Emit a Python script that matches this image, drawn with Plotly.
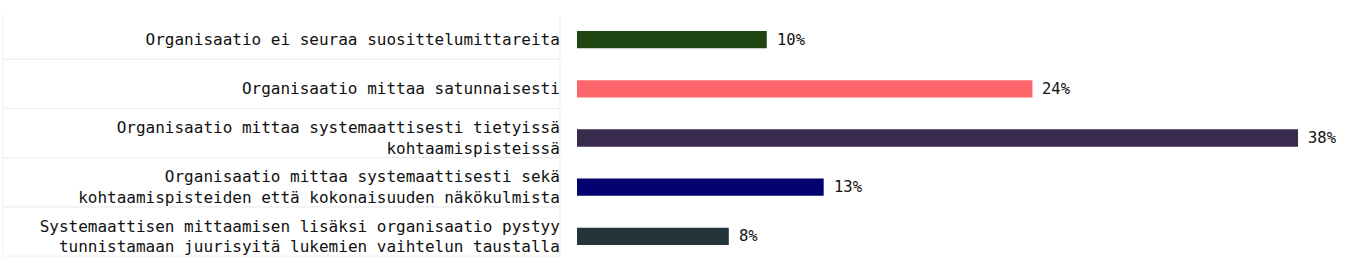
import plotly.graph_objects as go

categories = [
    "Organisaatio ei seuraa suosittelumittareita",
    "Organisaatio mittaa satunnaisesti",
    "Organisaatio mittaa systemaattisesti tietyissä<br>kohtaamispisteissä",
    "Organisaatio mittaa systemaattisesti sekä<br>kohtaamispisteiden että kokonaisuuden näkökulmista",
    "Systemaattisen mittaamisen lisäksi organisaatio pystyy<br>tunnistamaan juurisyitä lukemien vaihtelun taustalla",
]
values = [10, 24, 38, 13, 8]
colors = ["#1e4512", "#ff666b", "#392b4e", "#01016f", "#23353b"]

FONT = "DejaVu Sans Mono, Liberation Mono, monospace"
W, H = 1364, 279
L, R, T, B = 577, 28, 15, 18
plot_w = W - L - R

fig = go.Figure(go.Bar(
    x=values,
    y=categories,
    orientation="h",
    marker=dict(color=colors, line=dict(width=0)),
    width=0.352,
    hoverinfo="skip",
))

annotations = [
    dict(x=v, y=c, xref="x", yref="y", text=f"{v}%", showarrow=False,
         xanchor="left", yanchor="middle", xshift=8,
         font=dict(family=FONT, size=15.5, color="#111111"))
    for v, c in zip(values, categories)
]

shapes = []
for i in range(len(categories)):
    shapes.append(dict(
        type="rect", xref="paper", yref="y",
        x0=(3 - L) / plot_w, x1=(560 - L) / plot_w,
        y0=i - 0.6, y1=i + 0.4,
        line=dict(color="#efefef", width=1),
        fillcolor="rgba(0,0,0,0)", layer="below",
    ))

fig.update_layout(
    width=W, height=H,
    margin=dict(l=L, r=R, t=T, b=B),
    paper_bgcolor="white", plot_bgcolor="white",
    showlegend=False,
    shapes=shapes,
    annotations=annotations,
    xaxis=dict(range=[0, 40], visible=False, showgrid=False, zeroline=False,
               automargin=False),
    yaxis=dict(
        range=[len(categories) - 0.5, -0.5], automargin=False,
        showgrid=False, zeroline=False, showline=False,
        ticks="outside", ticklen=13, tickcolor="rgba(0,0,0,0)",
        tickfont=dict(family=FONT, size=16, color="#111111"),
    ),
)

fig.write_html("out.html")
